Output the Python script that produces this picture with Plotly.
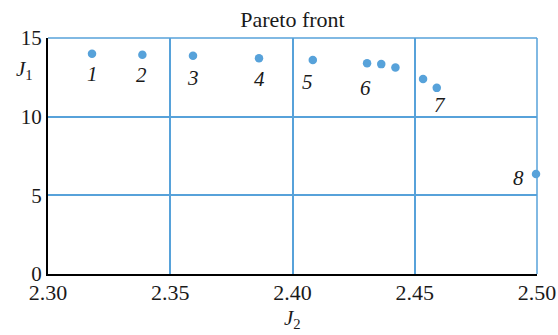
import plotly.graph_objects as go

# Data
j2_values = [2.318, 2.3386, 2.3593, 2.3863, 2.4083, 2.4305, 2.4363, 2.4421, 2.4534, 2.459, 2.4996]
j1_values = [14.0, 13.94, 13.87, 13.72, 13.6, 13.4, 13.34, 13.13, 12.4, 11.83, 6.35]
point_labels = ["1", "2", "3", "4", "5", "6", "7", "8"]
labelled_index = [0, 1, 2, 3, 4, 5, 9, 10]
x_ticks = [2.30, 2.35, 2.40, 2.45, 2.50]
x_tick_text = ["2.30", "2.35", "2.40", "2.45", "2.50"]
y_ticks = [0, 5, 10, 15]

BLUE = "#57a2da"
FONT = "Liberation Serif, Times New Roman, serif"
TXT = "#1a1a1a"

fig = go.Figure()
fig.add_trace(go.Scatter(
    x=j2_values, y=j1_values, mode="markers",
    marker=dict(color=BLUE, size=8.5),
    cliponaxis=False, showlegend=False, hoverinfo="x+y",
))

# label offsets in pixels (dx right, dy up)
label_offsets = [(0, -20.5), (-1, -20.5), (0, -22), (0, -21), (-5, -22), (-2, -25), (3, -17), (-18, -3.5)]
for lab, idx, (dx, dy) in zip(point_labels, labelled_index, label_offsets):
    fig.add_annotation(
        x=j2_values[idx], y=j1_values[idx], text=f"<i>{lab}</i>",
        showarrow=False, xshift=dx, yshift=dy,
        font=dict(family=FONT, size=21, color=TXT),
    )

fig.add_annotation(
    xref="paper", yref="paper", x=-0.049, y=0.864, xanchor="center", yanchor="middle",
    text="<i>J</i><sub>1</sub>", showarrow=False,
    font=dict(family=FONT, size=21, color=TXT),
)
fig.add_annotation(
    xref="paper", yref="paper", x=0.5, y=-0.19, xanchor="center", yanchor="middle",
    text="<i>J</i><sub>2</sub>", showarrow=False,
    font=dict(family=FONT, size=21, color=TXT),
)

# blue frame on top and right edges (gridlines at the range ends)
fig.add_shape(type="line", xref="paper", yref="paper", x0=0, x1=1, y0=1, y1=1,
              line=dict(color=BLUE, width=1.5), layer="below")
fig.add_shape(type="line", xref="paper", yref="paper", x0=1, x1=1, y0=0, y1=1,
              line=dict(color=BLUE, width=1.5), layer="below")

fig.update_layout(
    width=558, height=335,
    margin=dict(l=48, r=21, t=38, b=61, autoexpand=False),
    paper_bgcolor="white", plot_bgcolor="white",
    font=dict(family=FONT, size=20, color=TXT),
    title=dict(text="Pareto front", x=0.5, xref="paper", xanchor="center",
               y=1, yref="paper", yanchor="bottom", pad=dict(b=11),
               font=dict(family=FONT, size=22, color=TXT)),
    xaxis=dict(
        range=[2.30, 2.50], tickvals=x_ticks, ticktext=x_tick_text,
        showgrid=True, gridcolor=BLUE, gridwidth=1.5,
        showline=True, linecolor="black", linewidth=2.2,
        zeroline=False, ticks="", ticklabelstandoff=-3, automargin=False,
        tickfont=dict(family=FONT, size=22, color=TXT),
    ),
    yaxis=dict(
        range=[0, 15], tickvals=y_ticks,
        showgrid=True, gridcolor=BLUE, gridwidth=1.5,
        showline=True, linecolor="black", linewidth=2.2,
        zeroline=False, ticks="", ticklabelstandoff=0, automargin=False,
        tickfont=dict(family=FONT, size=21, color=TXT),
    ),
)

fig.write_html("out.html", config={"displayModeBar": False},
               post_script="document.body.style.margin='0';")
